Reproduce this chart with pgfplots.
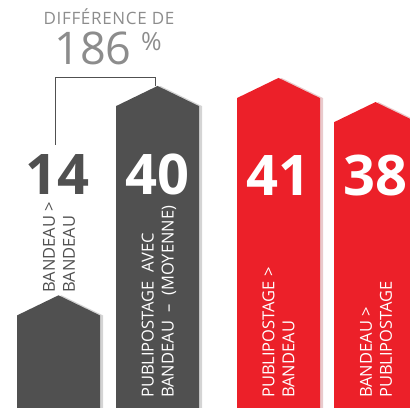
\documentclass[border=0pt]{standalone}
\usepackage{pgfplots}
\pgfplotsset{compat=1.18}
\usepackage{fontspec}
\setmainfont{Open Sans}
\definecolor{darkbar}{HTML}{505050}
\definecolor{redbar}{HTML}{EC2029}
\definecolor{txtgray}{HTML}{8C8C8C}
\definecolor{shgray}{HTML}{D4D4D4}
\definecolor{shred}{HTML}{E9CACC}
\begin{document}
\begin{tikzpicture}
\begin{axis}[name=ax, width=410bp, height=408bp, scale only axis,
  xmin=0, xmax=410, ymin=0, ymax=50.68, axis lines=none, clip=true]
% shadows
\addplot[fill=shgray, draw=none] coordinates {(20,0) (20,11.5) (61.5,14) (103,11.5) (103,0)} -- cycle;
\addplot[fill=shgray, draw=none] coordinates {(119,0) (119,37.5) (160.5,40) (202,37.5) (202,0)} -- cycle;
\addplot[fill=shred, draw=none] coordinates {(240,0) (240,38.5) (281.5,41) (323,38.5) (323,0)} -- cycle;
\addplot[fill=shred, draw=none] coordinates {(337,0) (337,35.5) (378.5,38) (420,35.5) (420,0)} -- cycle;
% bars (values 14, 40, 41, 38)
\addplot[fill=darkbar, draw=none] coordinates {(17,0) (17,11.5) (58.5,14) (100,11.5) (100,0)} -- cycle;
\addplot[fill=darkbar, draw=none] coordinates {(116,0) (116,37.5) (157.5,40) (199,37.5) (199,0)} -- cycle;
\addplot[fill=redbar, draw=none] coordinates {(237,0) (237,38.5) (278.5,41) (320,38.5) (320,0)} -- cycle;
\addplot[fill=redbar, draw=none] coordinates {(334,0) (334,35.5) (375.5,38) (417,35.5) (417,0)} -- cycle;
% bracket
\draw[darkbar, line width=0.9bp] (axis cs:55,32.67) -- (axis cs:55,41.12) -- (axis cs:155,41.12) -- (axis cs:155,40);
% numbers
\node[anchor=base, text=darkbar, font=\fontsize{56bp}{56bp}\selectfont\bfseries] at (axis cs:57,26.58) {14};
\node[anchor=base, text=white, font=\fontsize{56bp}{56bp}\selectfont\bfseries] at (axis cs:157.5,26.58) {40};
\node[anchor=base, text=white, font=\fontsize{56bp}{56bp}\selectfont\bfseries] at (axis cs:278.5,26.4) {41};
\node[anchor=base, text=white, font=\fontsize{56bp}{56bp}\selectfont\bfseries] at (axis cs:375,26.4) {38};
% labels
\node[rotate=90, anchor=west, inner sep=0pt, align=left, text=darkbar, font=\fontsize{16.5bp}{20bp}\selectfont] at (axis cs:59,14.29) {BANDEAU >\\BANDEAU};
\node[rotate=90, anchor=west, inner sep=0pt, align=left, text=white, font=\fontsize{16.5bp}{20bp}\selectfont] at (axis cs:159,1.24) {PUBLIPOSTAGE\ \ AVEC\\BANDEAU\ \ –\ \ (MOYENNE)};
\node[rotate=90, anchor=west, inner sep=0pt, align=left, text=white, font=\fontsize{16.5bp}{20bp}\selectfont] at (axis cs:278.5,1.24) {PUBLIPOSTAGE >\\BANDEAU};
\node[rotate=90, anchor=west, inner sep=0pt, align=left, text=white, font=\fontsize{16.5bp}{20bp}\selectfont] at (axis cs:376,1.24) {BANDEAU >\\PUBLIPOSTAGE};
% header
\node[anchor=base, text=txtgray, font=\fontsize{17bp}{17bp}\selectfont\addfontfeatures{LetterSpace=4}] at (axis cs:109,47.58) {DIFFÉRENCE DE};
\node[anchor=base, text=txtgray, font=\fontsize{45bp}{45bp}\selectfont] at (axis cs:93,42.61) {186};
\node[anchor=north, inner sep=0pt, text=txtgray, font=\fontsize{25bp}{25bp}\selectfont] at (axis cs:151.5,46.71) {\%};
\end{axis}
\pgfresetboundingbox
\path (ax.south west) rectangle (ax.north east);
\end{tikzpicture}
\end{document}
